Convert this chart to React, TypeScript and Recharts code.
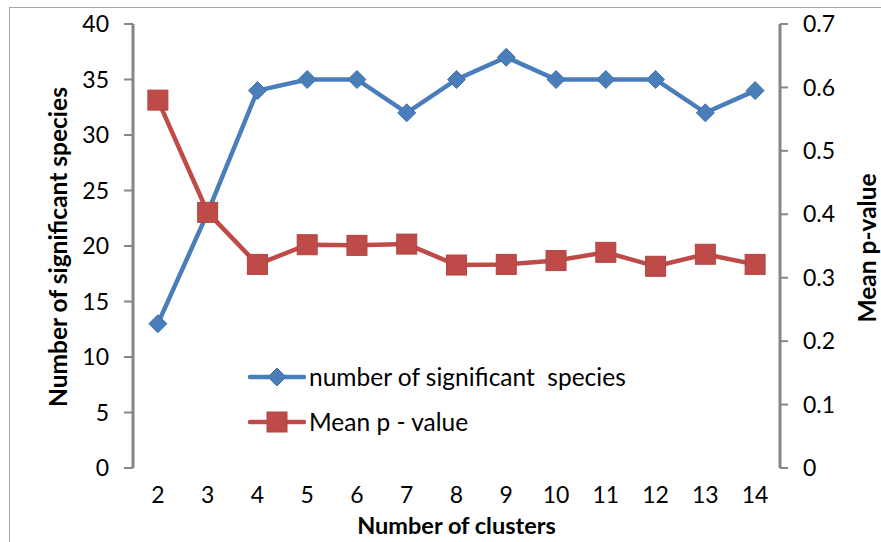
import React from 'react';
import {
  LineChart,
  Line,
  XAxis,
  YAxis,
} from 'recharts';

// ── Data ────────────────────────────────────────────────
const clusters = [2, 3, 4, 5, 6, 7, 8, 9, 10, 11, 12, 13, 14];
const speciesCounts = [13, 23, 34, 35, 35, 32, 35, 37, 35, 35, 35, 32, 34];
const meanPValues = [0.58, 0.403, 0.321, 0.352, 0.351, 0.353, 0.32, 0.321, 0.327, 0.34, 0.318, 0.337, 0.321];

const speciesTicks = [0, 5, 10, 15, 20, 25, 30, 35, 40];
const pValueTicks = [0, 0.1, 0.2, 0.3, 0.4, 0.5, 0.6, 0.7];
const clusterBoundaries = [1.5, 2.5, 3.5, 4.5, 5.5, 6.5, 7.5, 8.5, 9.5, 10.5, 11.5, 12.5, 13.5, 14.5];

const data = clusters.map((c, i) => ({
  clusters: c,
  species: speciesCounts[i],
  pValue: meanPValues[i],
}));

// ── Styles ──────────────────────────────────────────────
const FONT = 'Lato, "Open Sans", sans-serif';
const AXIS_GREY = '#868686';
const BLUE = '#4A7EBB';
const RED = '#BE4B48';
const tickStyle = { fill: '#000', fontSize: 23, fontFamily: FONT };
const titleStyle = { fontFamily: FONT, fontSize: 23.5, fontWeight: 700, fill: '#000' };

const Diamond = ({ cx, cy, r = 9 }: { cx: number; cy: number; r?: number }) => (
  <path
    d={`M${cx},${cy - r} L${cx + r},${cy} L${cx},${cy + r} L${cx - r},${cy} Z`}
    fill={BLUE}
    stroke="#3f6fa8"
    strokeWidth={1}
  />
);

const Square = ({ cx, cy, s = 10 }: { cx: number; cy: number; s?: number }) => (
  <rect x={cx - s} y={cy - s} width={s * 2} height={s * 2} fill={RED} stroke="#b04442" strokeWidth={1} />
);

const legendItems = [
  { label: 'number of significant  species', color: BLUE, marker: 'diamond' },
  { label: 'Mean p - value', color: RED, marker: 'square' },
];

function ChartLegend() {
  return (
    <div style={{ position: 'absolute', left: 248, top: 354, fontFamily: FONT, fontSize: 24.5, color: '#000' }}>
      {legendItems.map((item) => (
        <div key={item.label} style={{ display: 'flex', alignItems: 'center', height: 45 }}>
          <svg width={58} height={24} style={{ marginRight: 3 }}>
            <line x1={2} y1={12} x2={56} y2={12} stroke={item.color} strokeWidth={4.5} strokeLinecap="round" />
            {item.marker === 'diamond' ? <Diamond cx={29} cy={12} /> : <Square cx={29} cy={12} />}
          </svg>
          <span style={{ whiteSpace: 'pre' }}>{item.label}</span>
        </div>
      ))}
    </div>
  );
}

// ── Component ───────────────────────────────────────────
export default function App() {
  return (
    <div style={{ position: 'relative', width: 881, height: 542, overflow: 'hidden', background: '#fff' }}>
      <style>{'body{margin:0}'}</style>
      <div
        style={{
          position: 'absolute',
          left: 9,
          top: 7,
          width: 900,
          height: 600,
          border: '1px solid #a6a6a6',
        }}
      />
      <LineChart
        width={881}
        height={542}
        data={data}
        margin={{ top: 24, right: 0, bottom: 0, left: 0 }}
        style={{ position: 'absolute', left: 0, top: 0 }}
      >
        <XAxis
          xAxisId="top"
          orientation="top"
          dataKey="clusters"
          type="number"
          domain={[1.5, 14.5]}
          height={0}
          tick={false}
          tickLine={false}
          axisLine={{ stroke: AXIS_GREY, strokeWidth: 3 }}
        />
        <XAxis
          xAxisId="bounds"
          dataKey="clusters"
          type="number"
          domain={[1.5, 14.5]}
          ticks={clusterBoundaries}
          height={0}
          tick={false}
          tickSize={9}
          tickLine={{ stroke: AXIS_GREY, strokeWidth: 2 }}
          axisLine={{ stroke: AXIS_GREY, strokeWidth: 3 }}
        />
        <XAxis
          xAxisId="main"
          dataKey="clusters"
          type="number"
          domain={[1.5, 14.5]}
          ticks={clusters}
          height={74}
          tickLine={false}
          axisLine={false}
          tick={tickStyle}
          tickMargin={13}
          label={{
            value: 'Number of clusters',
            position: 'insideBottom',
            offset: 8,
            style: titleStyle,
          }}
        />
        <YAxis
          yAxisId="left"
          domain={[0, 40]}
          ticks={speciesTicks}
          width={133}
          tick={tickStyle}
          tickSize={9}
          tickMargin={15}
          tickLine={{ stroke: AXIS_GREY, strokeWidth: 2 }}
          axisLine={{ stroke: AXIS_GREY, strokeWidth: 3 }}
          label={{
            content: () => (
              <text
                x={57}
                y={247}
                transform="rotate(-90 57 247)"
                textAnchor="middle"
                dominantBaseline="central"
                style={{ ...titleStyle, fontSize: 24.5 }}
              >
                Number of significant species
              </text>
            ),
          }}
        />
        <YAxis
          yAxisId="right"
          orientation="right"
          domain={[0, 0.7]}
          ticks={pValueTicks}
          width={101}
          tick={tickStyle}
          tickSize={8}
          tickMargin={15}
          tickLine={{ stroke: AXIS_GREY, strokeWidth: 2 }}
          axisLine={{ stroke: AXIS_GREY, strokeWidth: 3 }}
          label={{
            content: () => (
              <text
                x={866}
                y={248}
                transform="rotate(-90 866 248)"
                textAnchor="middle"
                dominantBaseline="central"
                style={{ ...titleStyle, fontSize: 24.5 }}
              >
                Mean p-value
              </text>
            ),
          }}
        />
        <Line
          xAxisId="main"
          yAxisId="left"
          dataKey="species"
          stroke={BLUE}
          strokeWidth={4.5}
          isAnimationActive={false}
          dot={(p: any) => <Diamond key={`d-${p.index}`} cx={p.cx} cy={p.cy} />}
          activeDot={false}
        />
        <Line
          xAxisId="main"
          yAxisId="right"
          dataKey="pValue"
          stroke={RED}
          strokeWidth={4.5}
          isAnimationActive={false}
          dot={(p: any) => <Square key={`s-${p.index}`} cx={p.cx} cy={p.cy} />}
          activeDot={false}
        />
      </LineChart>
      <ChartLegend />
    </div>
  );
}
